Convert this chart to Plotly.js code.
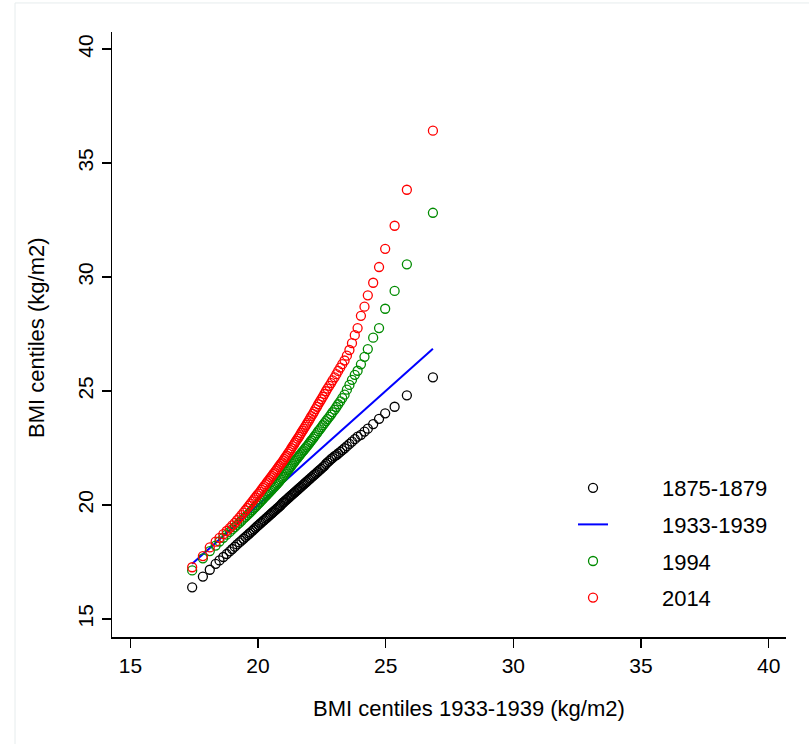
<!DOCTYPE html>
<html><head><meta charset="utf-8">
<script src="https://cdn.plot.ly/plotly-3.0.1.min.js"></script>
<style>html,body{margin:0;padding:0;background:#fff}#chart{width:809px;height:744px}</style>
</head><body><div id="chart"></div>
<script>
// BMI centiles (1st..99th) of the 1933-1939 reference cohort (x axis)
const centiles1933 = [17.42,17.84,18.11,18.34,18.49,18.64,18.77,18.89,18.99,19.09,
19.18,19.27,19.35,19.43,19.51,19.58,19.65,19.71,19.78,19.84,
19.90,19.96,20.02,20.08,20.13,20.19,20.24,20.30,20.35,20.40,
20.45,20.50,20.55,20.60,20.65,20.70,20.75,20.80,20.84,20.89,
20.94,20.99,21.03,21.08,21.12,21.17,21.22,21.27,21.31,21.36,
21.41,21.45,21.50,21.55,21.60,21.64,21.69,21.74,21.79,21.84,
21.89,21.94,21.99,22.04,22.09,22.15,22.20,22.25,22.31,22.36,
22.42,22.48,22.54,22.60,22.66,22.72,22.79,22.86,22.92,23.00,
23.07,23.14,23.22,23.30,23.39,23.48,23.58,23.68,23.79,23.90,
24.03,24.17,24.30,24.51,24.74,24.98,25.35,25.83,26.85];
// Matching centiles for the other cohorts (y axis)
const centiles1875 = [16.39,16.86,17.16,17.42,17.57,17.72,17.85,17.97,18.07,18.17,
18.27,18.36,18.44,18.52,18.60,18.67,18.74,18.80,18.87,18.93,
19.00,19.06,19.12,19.18,19.23,19.29,19.34,19.40,19.45,19.50,
19.55,19.60,19.65,19.70,19.75,19.80,19.85,19.90,19.94,19.99,
20.06,20.11,20.15,20.20,20.24,20.29,20.34,20.39,20.43,20.48,
20.53,20.57,20.62,20.67,20.72,20.76,20.81,20.86,20.91,20.96,
21.01,21.06,21.11,21.16,21.21,21.27,21.32,21.37,21.43,21.48,
21.54,21.60,21.66,21.72,21.80,21.87,21.94,22.01,22.07,22.14,
22.19,22.26,22.33,22.41,22.49,22.58,22.68,22.78,22.89,23.00,
23.08,23.22,23.35,23.55,23.78,24.02,24.31,24.81,25.60];
const centiles1994 = [17.13,17.66,17.98,18.22,18.40,18.56,18.70,18.82,18.93,19.03,
19.13,19.22,19.31,19.40,19.48,19.56,19.63,19.70,19.78,19.85,
19.92,19.99,20.06,20.13,20.19,20.26,20.32,20.39,20.45,20.51,
20.57,20.63,20.69,20.75,20.81,20.87,20.93,20.99,21.05,21.12,
21.18,21.24,21.31,21.38,21.45,21.52,21.59,21.66,21.73,21.80,
21.87,21.94,22.00,22.07,22.14,22.20,22.27,22.34,22.40,22.47,
22.54,22.61,22.68,22.76,22.83,22.91,22.99,23.07,23.15,23.24,
23.32,23.41,23.50,23.59,23.68,23.77,23.87,23.97,24.07,24.18,
24.30,24.42,24.55,24.69,24.84,25.06,25.27,25.49,25.71,25.89,
26.17,26.50,26.84,27.34,27.76,28.61,29.39,30.56,32.82];
const centiles2014 = [17.27,17.76,18.14,18.39,18.56,18.72,18.86,18.99,19.11,19.22,
19.34,19.45,19.56,19.67,19.77,19.87,19.97,20.06,20.16,20.25,
20.33,20.42,20.50,20.58,20.66,20.75,20.83,20.91,20.99,21.06,
21.13,21.21,21.28,21.36,21.43,21.51,21.58,21.66,21.73,21.80,
21.87,21.95,22.02,22.10,22.17,22.25,22.33,22.41,22.49,22.58,
22.66,22.74,22.82,22.91,22.99,23.07,23.16,23.25,23.34,23.43,
23.52,23.61,23.70,23.80,23.90,24.00,24.10,24.21,24.31,24.42,
24.53,24.64,24.75,24.87,24.99,25.11,25.23,25.35,25.47,25.60,
25.74,25.88,26.03,26.18,26.34,26.55,26.80,27.10,27.45,27.76,
28.30,28.70,29.20,29.75,30.44,31.24,32.25,33.83,36.42];
const seriesNames = ['1875-1879','1933-1939','1994','2014'];
const tickValues = [15,20,25,30,35,40];
const xTitle = 'BMI centiles 1933-1939 (kg/m2)';
const yTitle = 'BMI centiles (kg/m2)';

const FONT = 'Liberation Sans, Arial, Helvetica, sans-serif';
const pad = '\u00a0'.repeat(8);
function pts(y, color, name, grp) {
  return {x: centiles1933, y: y, type: 'scatter', mode: 'markers', name: pad + name,
    legendgroup: grp, cliponaxis: false,
    marker: {symbol: 'circle-open', size: 9, color: color, line: {width: 1.3, color: color}}};
}
const traces = [
  pts(centiles1875, '#000000', seriesNames[0], 'a'),
  {x: centiles1933, y: centiles1933, type: 'scatter', mode: 'lines', name: pad + seriesNames[1],
   legendgroup: 'b', line: {color: '#0000FF', width: 2}},
  pts(centiles1994, '#008B00', seriesNames[2], 'c'),
  pts(centiles2014, '#FF0000', seriesNames[3], 'd')
];
const axisCommon = {
  showgrid: false, zeroline: false, showline: true, linecolor: '#000', linewidth: 1.5,
  ticks: 'outside', ticklen: 9, tickwidth: 1.5, tickcolor: '#000',
  tickvals: tickValues, ticktext: tickValues.map(String),
  tickfont: {family: FONT, size: 21, color: '#000'}, mirror: false
};
const layout = {
  width: 809, height: 744,
  margin: {l: 112, r: 23, t: 32, b: 107},
  paper_bgcolor: '#fff', plot_bgcolor: '#fff',
  font: {family: FONT, size: 22, color: '#000'},
  xaxis: Object.assign({}, axisCommon, {range: [14.28, 40.68]}),
  yaxis: Object.assign({}, axisCommon, {range: [14.21, 40.75], tickangle: -90}),
  showlegend: true,
  legend: {x: 0.684, y: 0.281, xanchor: 'left', yanchor: 'top', bgcolor: 'rgba(0,0,0,0)',
    borderwidth: 0, font: {family: FONT, size: 22, color: '#000'}, tracegroupgap: 5,
    traceorder: 'grouped', itemwidth: 30},
  annotations: [
    {text: xTitle, xref: 'paper', yref: 'paper', x: 0.5297, y: -0.1174, xanchor: 'center', yanchor: 'middle',
     showarrow: false, font: {family: FONT, size: 22, color: '#000'}},
    {text: yTitle, xref: 'paper', yref: 'paper', x: -0.1113, y: 0.4959, xanchor: 'center', yanchor: 'middle',
     textangle: -90, showarrow: false, font: {family: FONT, size: 22, color: '#000'}}
  ],
  shapes: [
    {type: 'rect', xref: 'paper', yref: 'paper', x0: -0.1439, x1: 1.06, y0: -0.21, y1: 1.048,
     line: {color: '#e6eced', width: 1}, layer: 'below'}
  ]
};
Plotly.newPlot('chart', traces, layout, {displayModeBar: false, staticPlot: true});
</script>
</body></html>
